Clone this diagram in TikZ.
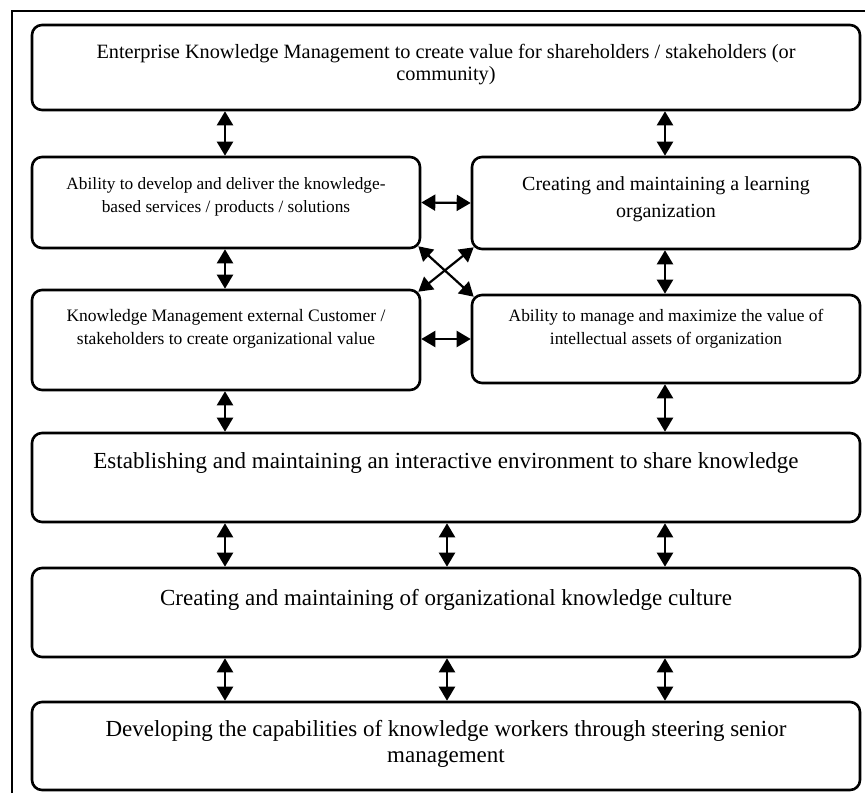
\documentclass[tikz,border=0pt]{standalone}
\usepackage{fontspec}
\setmainfont{Liberation Serif}
\usetikzlibrary{arrows.meta,calc}
\tikzset{
  box/.style={draw, line width=2.6pt, rounded corners=10pt, inner sep=0pt},
  txt/.style={align=center, inner sep=0pt, anchor=center},
  arr/.style={line width=2.2pt, {Triangle[length=14pt,width=16pt]}-{Triangle[length=14pt,width=16pt]}},
  frame/.style={line width=2pt}
}
\begin{document}
\begin{tikzpicture}[x=1pt,y=-1pt]
\useasboundingbox (0,0) rectangle (865,793);
\draw[frame] (12,793) -- (12,11) -- (865,11);
\coordinate (cL) at (225,0);
\coordinate (cM) at (447,0);
\coordinate (cR) at (665,0);
% boxes
\node[box, minimum width=828pt, minimum height=85pt] (b1) at (446,67.5) {};
\node[box, minimum width=388pt, minimum height=91pt] (b2) at (226,202.5) {};
\node[box, minimum width=388pt, minimum height=92pt] (b3) at (666,203) {};
\node[box, minimum width=388pt, minimum height=100pt] (b4) at (226,340) {};
\node[box, minimum width=388pt, minimum height=88pt] (b5) at (666,339) {};
\node[box, minimum width=828pt, minimum height=89pt] (b6) at (446,477.5) {};
\node[box, minimum width=828pt, minimum height=89pt] (b7) at (446,612.5) {};
\node[box, minimum width=828pt, minimum height=88pt] (b8) at (446,746) {};
% texts
\node[txt, font=\fontsize{20.3}{22}\selectfont] (t1) at (446,65) {Enterprise Knowledge Management to create value for shareholders / stakeholders (or\\community)};
\node[txt, font=\fontsize{17.3}{23}\selectfont] (t2) at (226,197) {Ability to develop and deliver the knowledge-\\based services / products / solutions};
\node[txt, font=\fontsize{20}{27}\selectfont] (t3) at (666,199) {Creating and maintaining a learning\\organization};
\node[txt, font=\fontsize{17.5}{23}\selectfont] (t4) at (226,329) {Knowledge Management external Customer /\\stakeholders to create organizational value};
\node[txt, font=\fontsize{17.4}{23}\selectfont] (t5) at (666,329) {Ability to manage and maximize the value of\\intellectual assets of organization};
\node[txt, font=\fontsize{23}{26}\selectfont] (t6) at (446,463) {Establishing and maintaining an interactive environment to share knowledge};
\node[txt, font=\fontsize{23}{26}\selectfont] (t7) at (446,600) {Creating and maintaining of organizational knowledge culture};
\node[txt, font=\fontsize{23}{26}\selectfont] (t8) at (446,744) {Developing the capabilities of knowledge workers through steering senior\\management};
% connectors
\draw[arr] (b1.south -| cL) -- (b2.north -| cL);
\draw[arr] (b1.south -| cR) -- (b3.north -| cR);
\draw[arr] (b2.east) -- (b3.west);
\draw[arr] ([shift={(-3pt,3pt)}]b2.south east) -- ([shift={(3pt,-3pt)}]b5.north west);
\draw[arr] ([shift={(3pt,3pt)}]b3.south west) -- ([shift={(-3pt,-3pt)}]b4.north east);
\draw[arr] (b2.south -| cL) -- (b4.north -| cL);
\draw[arr] (b3.south -| cR) -- (b5.north -| cR);
\draw[arr] (b4.east |- b5.west) -- (b5.west);
\draw[arr] (b4.south -| cL) -- (b6.north -| cL);
\draw[arr] (b5.south -| cR) -- (b6.north -| cR);
\draw[arr] (b6.south -| cL) -- (b7.north -| cL);
\draw[arr] (b6.south -| cM) -- (b7.north -| cM);
\draw[arr] (b6.south -| cR) -- (b7.north -| cR);
\draw[arr] (b7.south -| cL) -- (b8.north -| cL);
\draw[arr] (b7.south -| cM) -- (b8.north -| cM);
\draw[arr] (b7.south -| cR) -- (b8.north -| cR);
\end{tikzpicture}
\end{document}
